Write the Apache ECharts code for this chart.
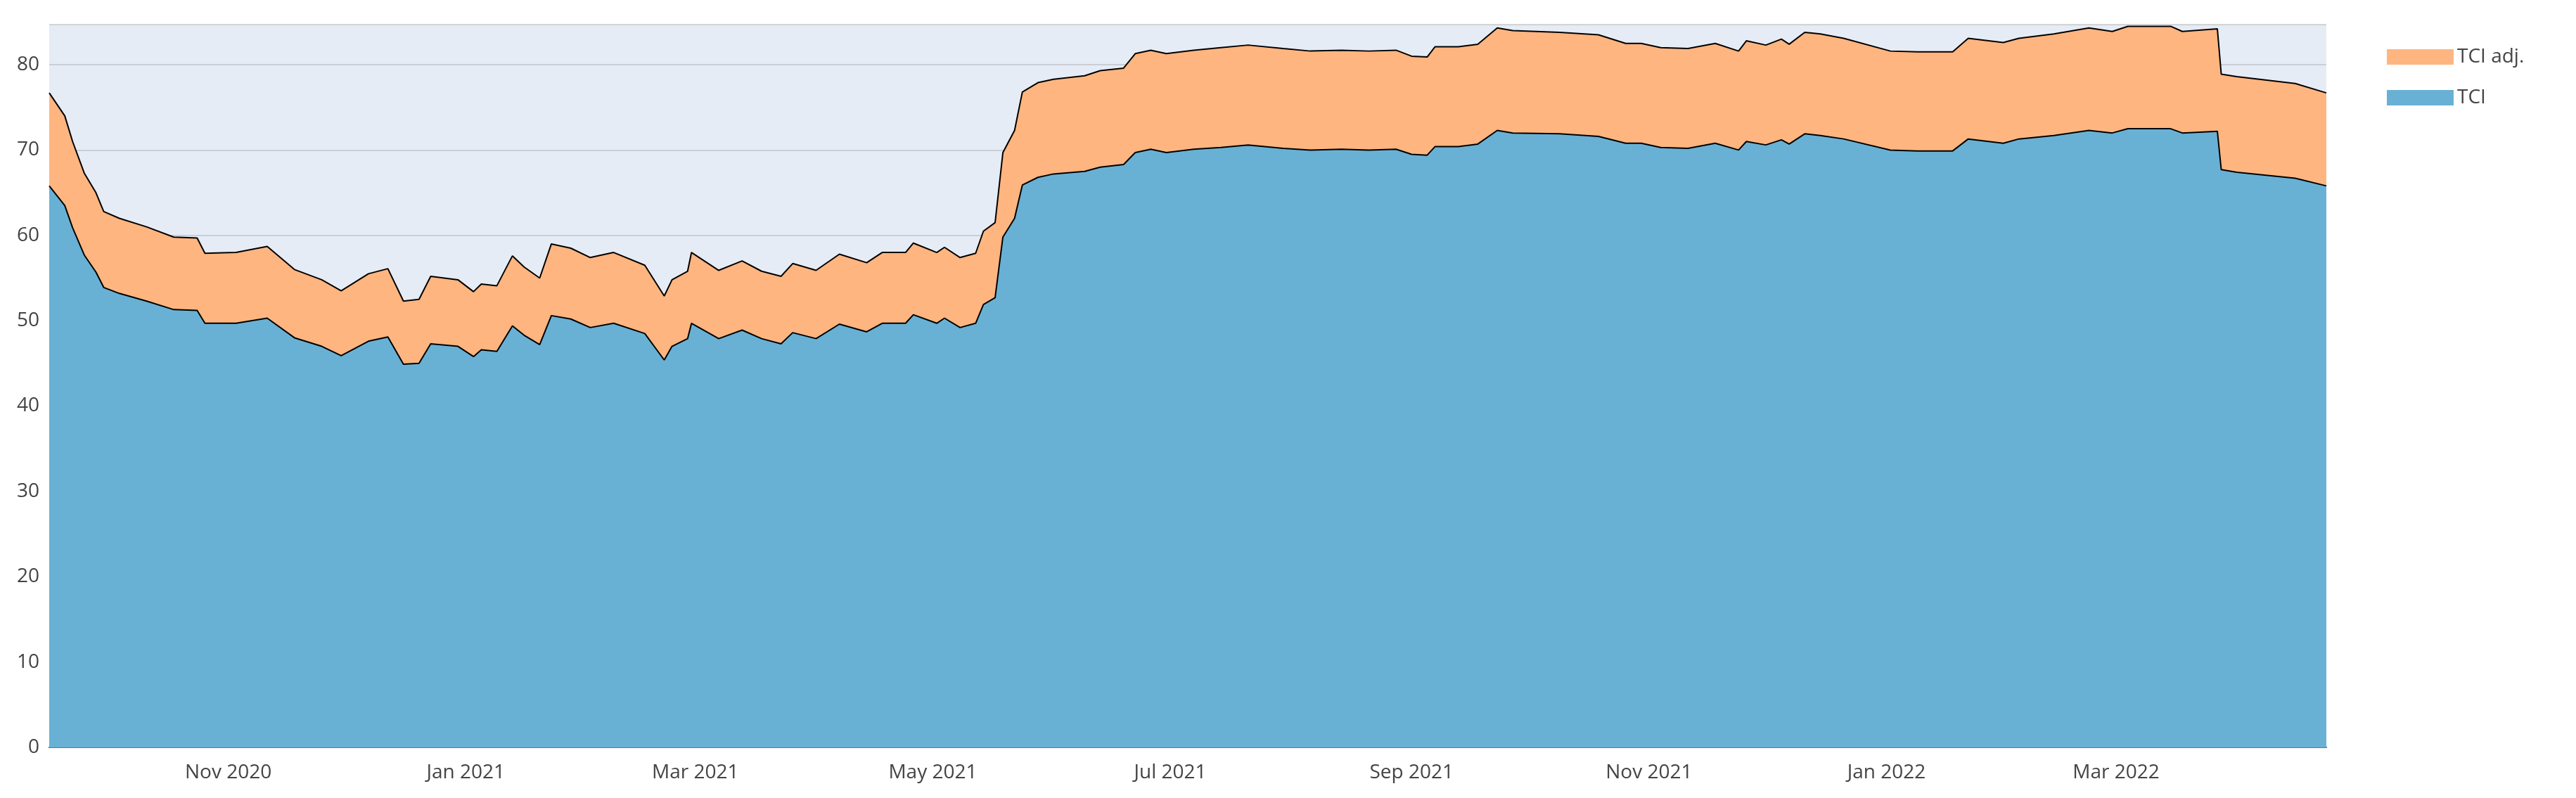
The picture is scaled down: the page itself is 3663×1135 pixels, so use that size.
<!DOCTYPE html>
<html><head><meta charset="utf-8">
<script src="https://cdn.jsdelivr.net/npm/echarts@6/dist/echarts.min.js"></script>
<style>html,body{margin:0;padding:0;background:#fff}#c{width:3663px;height:1135px}</style>
</head><body><div id="c"></div>
<script>
const dates = ["2020-09-16","2020-09-20","2020-09-22","2020-09-25","2020-09-28","2020-09-30","2020-10-04","2020-10-11","2020-10-18","2020-10-24","2020-10-26","2020-11-03","2020-11-11","2020-11-18","2020-11-25","2020-11-30","2020-12-07","2020-12-12","2020-12-16","2020-12-20","2020-12-23","2020-12-30","2021-01-03","2021-01-05","2021-01-09","2021-01-13","2021-01-16","2021-01-20","2021-01-23","2021-01-28","2021-02-02","2021-02-08","2021-02-16","2021-02-21","2021-02-23","2021-02-27","2021-02-28","2021-03-07","2021-03-13","2021-03-18","2021-03-23","2021-03-26","2021-04-01","2021-04-07","2021-04-14","2021-04-18","2021-04-24","2021-04-26","2021-05-02","2021-05-04","2021-05-08","2021-05-12","2021-05-14","2021-05-17","2021-05-19","2021-05-22","2021-05-24","2021-05-28","2021-06-01","2021-06-09","2021-06-13","2021-06-19","2021-06-22","2021-06-26","2021-06-30","2021-07-07","2021-07-14","2021-07-21","2021-07-30","2021-08-06","2021-08-14","2021-08-21","2021-08-28","2021-09-01","2021-09-05","2021-09-07","2021-09-13","2021-09-18","2021-09-23","2021-09-27","2021-10-09","2021-10-19","2021-10-26","2021-10-30","2021-11-04","2021-11-11","2021-11-18","2021-11-24","2021-11-26","2021-12-01","2021-12-05","2021-12-07","2021-12-11","2021-12-15","2021-12-21","2022-01-02","2022-01-09","2022-01-18","2022-01-22","2022-01-31","2022-02-04","2022-02-13","2022-02-22","2022-02-28","2022-03-04","2022-03-15","2022-03-18","2022-03-27","2022-03-28","2022-04-01","2022-04-16","2022-04-24"];
const tciAdj = [76.7,74,71,67.3,65,62.8,62,61,59.8,59.7,57.9,58,58.7,56,54.8,53.5,55.5,56.1,52.3,52.5,55.2,54.8,53.4,54.3,54.1,57.6,56.3,55,59,58.5,57.4,58,56.5,52.9,54.8,55.8,58,55.9,57,55.8,55.2,56.7,55.9,57.8,56.8,58,58,59.1,58,58.6,57.4,57.9,60.5,61.5,69.7,72.3,76.8,77.9,78.3,78.7,79.3,79.6,81.3,81.7,81.3,81.7,82,82.3,81.9,81.6,81.7,81.6,81.7,81,80.9,82.1,82.1,82.4,84.3,84,83.8,83.5,82.5,82.5,82,81.9,82.5,81.6,82.8,82.3,83,82.4,83.8,83.6,83.1,81.6,81.5,81.5,83.1,82.6,83.1,83.6,84.3,83.9,84.5,84.5,83.9,84.2,78.9,78.6,77.8,76.7];
const tci = [65.8,63.5,60.9,57.7,55.7,53.9,53.2,52.3,51.3,51.2,49.7,49.7,50.3,48,47,45.9,47.6,48.1,44.9,45,47.3,47,45.8,46.6,46.4,49.4,48.3,47.2,50.6,50.2,49.2,49.7,48.5,45.4,47,47.9,49.7,47.9,48.9,47.9,47.3,48.6,47.9,49.6,48.7,49.7,49.7,50.7,49.7,50.3,49.2,49.7,51.9,52.7,59.8,62,65.9,66.8,67.2,67.5,68,68.3,69.7,70.1,69.7,70.1,70.3,70.6,70.2,70,70.1,70,70.1,69.5,69.4,70.4,70.4,70.7,72.3,72,71.9,71.6,70.8,70.8,70.3,70.2,70.8,70,71,70.6,71.2,70.7,71.9,71.7,71.3,70,69.9,69.9,71.3,70.8,71.3,71.7,72.3,72,72.5,72.5,72,72.2,67.7,67.4,66.7,65.8];
const yTicks = [0,10,20,30,40,50,60,70,80];
const monthNames = ["Jan","Feb","Mar","Apr","May","Jun","Jul","Aug","Sep","Oct","Nov","Dec"];

const chart = echarts.init(document.getElementById('c'));
const font = '"Open Sans", sans-serif';
chart.setOption({
  animation:false,
  grid:{left:70,right:355,top:35,bottom:72,show:true,backgroundColor:'#E5ECF6',borderWidth:0},
  legend:{orient:'vertical',left:3389,top:62,itemWidth:95,itemHeight:22,itemGap:30,
    textStyle:{fontFamily:font,fontSize:28,color:'#444'},data:['TCI adj.','TCI'],icon:'rect'},
  xAxis:{type:'time',min:'2020-09-16',max:'2022-04-24',
    interval:null,splitNumber:9,
    axisLine:{show:true,onZero:false,lineStyle:{color:'#0b5c7d',width:2}},
    axisTick:{show:false},splitLine:{show:false},
    axisLabel:{fontFamily:font,fontSize:28,color:'#444',margin:20,
      formatter:v=>{const d=new Date(v);return d.getDate()===1&&d.getMonth()%2===0?'':'';}},
  },
  yAxis:{type:'value',min:0,max:84.7,interval:10,z:3,
    axisLine:{show:false},axisTick:{show:false},
    splitLine:{lineStyle:{color:'rgba(170,170,170,0.45)',width:2}},
    axisLabel:{fontFamily:font,fontSize:28,color:'#444',margin:14,showMaxLabel:false,
      formatter:v=>yTicks.includes(v)?String(v):''}},
  series:[
    {name:'TCI adj.',type:'line',showSymbol:false,data:dates.map((d,i)=>[d,tciAdj[i]]),
     lineStyle:{color:'#000',width:2},itemStyle:{color:'#FFB580',borderColor:'#000'},
     areaStyle:{color:'#FFB580',opacity:1}},
    {name:'TCI',type:'line',showSymbol:false,data:dates.map((d,i)=>[d,tci[i]]),
     lineStyle:{color:'#000',width:2},itemStyle:{color:'#68B1D5',borderColor:'#000'},
     areaStyle:{color:'#68B1D5',opacity:1}},
    {type:'line',data:[],markLine:{}}
  ]
});
// month labels via graphic using the axis scale
const labels=[];
for(let y=2020;y<=2022;y++)for(let m=0;m<12;m+=2){
  const t=new Date(y,m,1);
  if(t>=new Date(2020,8,16)&&t<=new Date(2022,3,24)){
    const p=chart.convertToPixel({xAxisIndex:0},t.getTime());
    labels.push({type:'text',x:p,y:1085,style:{text:monthNames[m]+' '+y,fontFamily:font,fontSize:28,fill:'#444',align:'center',verticalAlign:'top'}});
  }
}
chart.setOption({graphic:labels});
</script></body></html>
